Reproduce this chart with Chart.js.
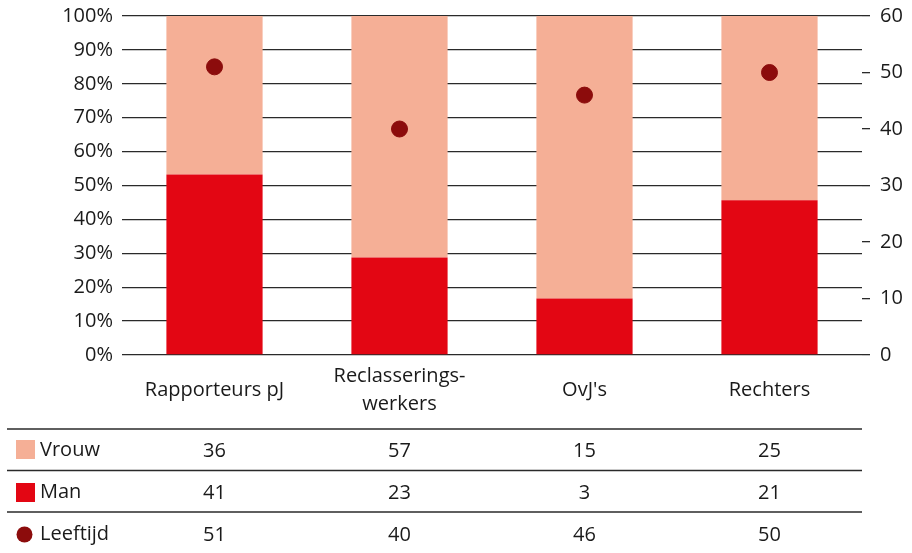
<!DOCTYPE html>
<html>
<head>
<meta charset="utf-8">
<script src="https://cdn.jsdelivr.net/npm/chart.js@4/dist/chart.umd.min.js"></script>
<style>
html,body{margin:0;padding:0;background:#fff;}
#wrap{width:912px;height:553px;position:relative;}
</style>
</head>
<body>
<div id="wrap"><canvas id="c" width="912" height="553"></canvas></div>
<script>
const categories = [["Rapporteurs pJ"], ["Reclasserings-", "werkers"], ["OvJ's"], ["Rechters"]];
const vrouw = [36, 57, 15, 25];
const man = [41, 23, 3, 21];
const leeftijd = [51, 40, 46, 50];
const seriesNames = ["Vrouw", "Man", "Leeftijd"];

const colVrouw = "#f5af96";
const colMan = "#e30613";
const colAge = "#8c0c0c";
const FONT = "'Open Sans', 'Noto Sans', sans-serif";
const FS = 20;
const textColor = "#1a1a1a";

const manPct = man.map((m, i) => m / (m + vrouw[i]) * 100);
const vrouwPct = vrouw.map((v, i) => v / (man[i] + v) * 100);

const tablePlugin = {
  id: 'tablePlugin',
  afterDraw(chart) {
    const ctx = chart.ctx;
    const xs = chart.scales.x;
    const right = chart.chartArea.right;
    ctx.save();
    ctx.strokeStyle = "#2a2a2a";
    ctx.lineWidth = 1.3;
    [429, 470.5, 512].forEach(y => {
      ctx.beginPath();
      ctx.moveTo(7, y);
      ctx.lineTo(right, y);
      ctx.stroke();
    });
    const rows = [vrouw, man, leeftijd];
    const rowY = [450, 492, 534];
    ctx.font = FS + "px " + FONT;
    ctx.fillStyle = textColor;
    ctx.textBaseline = "middle";
    rows.forEach((arr, r) => {
      ctx.textAlign = "left";
      ctx.fillStyle = textColor;
      ctx.fillText(seriesNames[r], 40, rowY[r]);
      ctx.textAlign = "center";
      arr.forEach((v, i) => {
        ctx.fillText(String(v), xs.getPixelForValue(i), rowY[r] + 1);
      });
    });
    ctx.fillStyle = colVrouw;
    ctx.fillRect(16, 440, 19, 19);
    ctx.fillStyle = colMan;
    ctx.fillRect(16, 483, 19, 19);
    ctx.fillStyle = colAge;
    ctx.beginPath();
    ctx.arc(24.5, 534.5, 8, 0, Math.PI * 2);
    ctx.fill();
    ctx.restore();
  }
};

new Chart(document.getElementById('c'), {
  data: {
    labels: categories,
    datasets: [
      { type: 'scatter', label: seriesNames[2], data: leeftijd.map((v, i) => ({x: i, y: v})), yAxisID: 'y2', xAxisID: 'x',
        backgroundColor: colAge, borderColor: colAge, pointRadius: 8, pointHoverRadius: 8, order: 0 },
      { type: 'bar', label: seriesNames[1], data: manPct, backgroundColor: colMan, yAxisID: 'y', stack: 's', order: 2,
        barPercentage: 0.52, categoryPercentage: 1 },
      { type: 'bar', label: seriesNames[0], data: vrouwPct, backgroundColor: colVrouw, yAxisID: 'y', stack: 's', order: 2,
        barPercentage: 0.52, categoryPercentage: 1 }
    ]
  },
  options: {
    responsive: false,
    animation: false,
    layout: { padding: { top: 16, bottom: 135, left: 0, right: 0 } },
    plugins: { legend: { display: false }, tooltip: { enabled: false } },
    scales: {
      x: {
        type: 'category',
        stacked: true,
        grid: { display: false, drawTicks: false },
        border: { display: false },
        ticks: { font: { family: FONT, size: FS, lineHeight: 1.4 }, color: textColor, padding: 21, crossAlign: 'center', maxRotation: 0, autoSkip: false },
        afterFit: s => { s.height = 63; }
      },
      y: {
        position: 'left',
        stacked: true,
        min: 0, max: 100,
        grid: { color: "#2a2a2a", lineWidth: 1.3, drawTicks: false },
        border: { display: false },
        ticks: { stepSize: 10, callback: v => v + "%", font: { family: FONT, size: FS, lineHeight: 0.5 }, color: textColor, padding: 9 },
        afterFit: s => { s.width = 122; }
      },
      y2: {
        position: 'right',
        min: 0, max: 60,
        grid: { drawOnChartArea: false, drawTicks: true, tickLength: 8, color: "#2a2a2a", lineWidth: 1.3 },
        border: { display: false },
        ticks: { stepSize: 10, font: { family: FONT, size: FS, lineHeight: 0.5 }, color: textColor, padding: 10 },
        afterFit: s => { s.width = 50; }
      }
    }
  },
  plugins: [tablePlugin]
});
</script>
</body>
</html>
